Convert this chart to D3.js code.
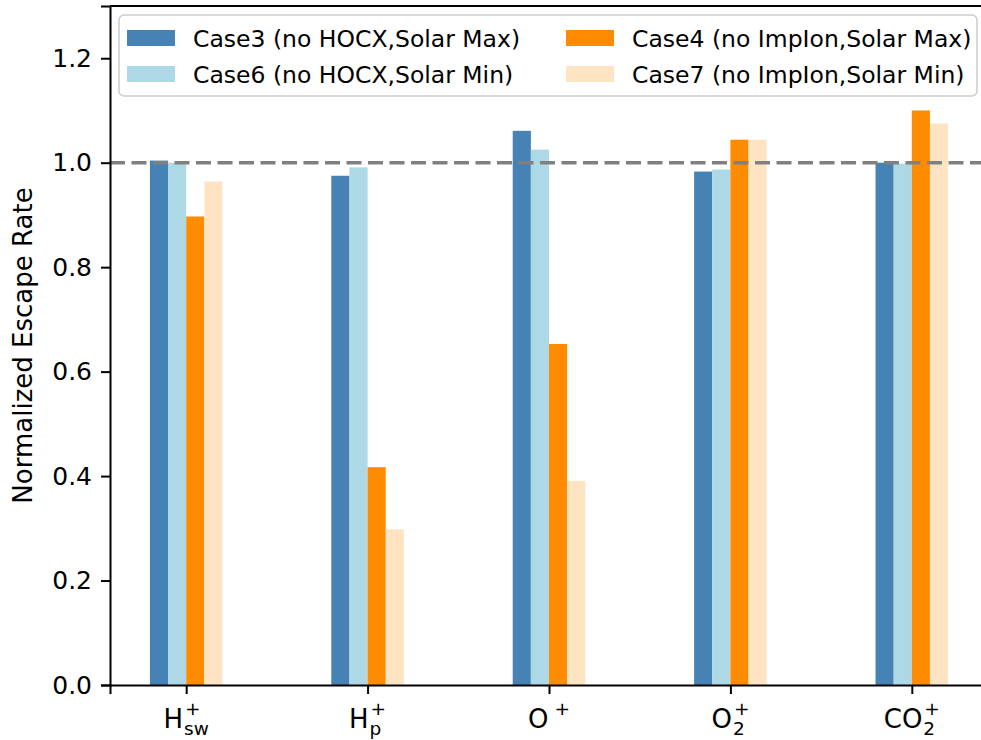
<!DOCTYPE html>
<html>
<head>
<meta charset="utf-8">
<script src="https://cdn.jsdelivr.net/npm/d3@7"></script>
<style>
  html, body { margin: 0; padding: 0; background: #fff; }
  svg { display: block; font-family: "DejaVu Sans", sans-serif; }
</style>
</head>
<body>
<div id="chart"></div>
<script>
// ion species on the x axis (base, subscript, superscript)
const species = [
  { base: 'H', sub: 'sw', sup: '+' },
  { base: 'H', sub: 'p', sup: '+' },
  { base: 'O', sub: '', sup: '+' },
  { base: 'O', sub: '2', sup: '+' },
  { base: 'CO', sub: '2', sup: '+' },
];
const seriesNames = [
  'Case3 (no HOCX,Solar Max)',
  'Case6 (no HOCX,Solar Min)',
  'Case4 (no ImpIon,Solar Max)',
  'Case7 (no ImpIon,Solar Min)',
];
const seriesColors = ['#4682b4', '#add8e6', '#ff8c00', '#ffe4c4'];
const case3 = [1.004, 0.975, 1.061, 0.983, 1.000];
const case6 = [1.000, 0.991, 1.025, 0.987, 0.998];
const case4 = [0.897, 0.417, 0.653, 1.044, 1.100];
const case7 = [0.964, 0.298, 0.391, 1.044, 1.075];
const yTicks = [0, 0.2, 0.4, 0.6, 0.8, 1.0, 1.2];
const refLevel = 1.0;

const width = 981, height = 740;
const margin = { left: 110, top: 6, bottom: 685, right: 988 };
const barW = 0.1;
const offsets = [-0.15, -0.05, 0.05, 0.15];
const allSeries = [case3, case6, case4, case7];

const svg = d3.select('#chart').append('svg')
  .attr('width', width).attr('height', height);

const x = d3.scaleLinear().domain([-0.42, 4.42]).range([margin.left, margin.right]);
const y = d3.scaleLinear().domain([0, 1.3]).range([margin.bottom, margin.top]);

// bars
allSeries.forEach((vals, si) => {
  svg.append('g').selectAll('rect')
    .data(vals)
    .join('rect')
    .attr('x', (d, i) => x(i + offsets[si] - barW / 2))
    .attr('width', x(barW) - x(0))
    .attr('y', (d) => y(d))
    .attr('height', (d) => y(0) - y(d))
    .attr('fill', seriesColors[si]);
});

// reference line
svg.append('line')
  .attr('x1', margin.left).attr('x2', width)
  .attr('y1', y(refLevel)).attr('y2', y(refLevel))
  .attr('stroke', '#808080')
  .attr('stroke-width', 3.5)
  .attr('stroke-dasharray', '15,6.5');

// y axis
const yAxis = d3.axisLeft(y).tickValues(yTicks).tickFormat(d3.format('.1f'))
  .tickSizeOuter(0).tickSize(9).tickPadding(9);
const gy = svg.append('g').attr('transform', `translate(${margin.left},0)`).call(yAxis);
gy.select('.domain').attr('stroke', '#000').attr('stroke-width', 2);
gy.selectAll('.tick line').attr('stroke', '#000').attr('stroke-width', 2);
gy.selectAll('.tick text').attr('font-size', 25).attr('font-family', 'DejaVu Sans').attr('fill', '#000');

// x axis (labels drawn separately for sub/superscripts)
const xAxis = d3.axisBottom(x).tickValues(d3.range(species.length)).tickFormat('')
  .tickSizeOuter(0).tickSize(9);
const gx = svg.append('g').attr('transform', `translate(0,${margin.bottom})`).call(xAxis);
gx.select('.domain').attr('stroke', '#000').attr('stroke-width', 2);
gx.selectAll('.tick line').attr('stroke', '#000').attr('stroke-width', 2);

// top spine
svg.append('line')
  .attr('x1', margin.left).attr('x2', width)
  .attr('y1', margin.top).attr('y2', margin.top)
  .attr('stroke', '#000').attr('stroke-width', 2);

// species labels
const labelBase = 728, fs = 26, fsSmall = 18.5;
species.forEach((s, i) => {
  const g = svg.append('g');
  const t = g.append('text').attr('font-size', fs).attr('y', labelBase).text(s.base);
  const bw = t.node().getComputedTextLength();
  const gapSup = s.sub ? 2 : 6;
  const sup = g.append('text').attr('font-size', fsSmall)
    .attr('x', bw + gapSup).attr('y', labelBase - 13).text(s.sup);
  let total = bw + gapSup + sup.node().getComputedTextLength();
  if (s.sub) {
    const sub = g.append('text').attr('font-size', fsSmall)
      .attr('x', bw + 1).attr('y', labelBase + 7).text(s.sub);
    total = Math.max(total, bw + 1 + sub.node().getComputedTextLength());
  }
  g.attr('transform', `translate(${x(i) - total / 2},0)`);
});

// y label
svg.append('text')
  .attr('transform', `translate(32,${(margin.top + margin.bottom) / 2}) rotate(-90)`)
  .attr('text-anchor', 'middle')
  .attr('font-size', 26)
  .text('Normalized Escape Rate');

// legend
const legend = svg.append('g');
legend.append('rect')
  .attr('x', 119).attr('y', 15).attr('width', 858).attr('height', 81)
  .attr('rx', 5).attr('fill', 'rgba(255,255,255,0.8)')
  .attr('stroke', '#cccccc').attr('stroke-width', 1.5);
const legendCols = [127, 566];
const legendRows = [30, 66];
seriesNames.forEach((name, i) => {
  const col = i < 2 ? 0 : 1;
  const row = i % 2;
  legend.append('rect')
    .attr('x', legendCols[col]).attr('y', legendRows[row])
    .attr('width', 48).attr('height', 16)
    .attr('fill', seriesColors[i]);
  legend.append('text')
    .attr('x', legendCols[col] + 66).attr('y', legendRows[row] + 16.5)
    .attr('font-size', 23.5)
    .text(name);
});
</script>
</body>
</html>
